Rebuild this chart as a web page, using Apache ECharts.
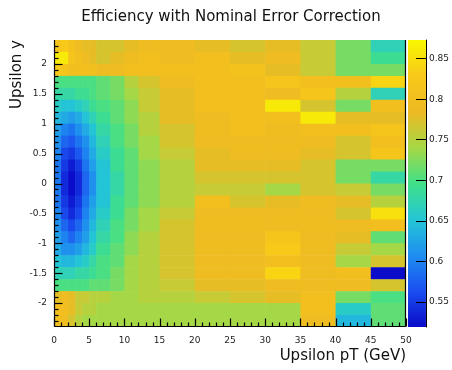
<!DOCTYPE html>
<html><head><meta charset="utf-8">
<script src="https://cdn.jsdelivr.net/npm/echarts@6/dist/echarts.min.js"></script>
<style>html,body{margin:0;padding:0;background:#fff}#c{width:452px;height:370px}</style>
</head><body><div id="c"></div>
<script>
const titleText = 'Efficiency with Nominal Error Correction';
const xName = 'Upsilon pT (GeV)';
const yName = 'Upsilon y';
// bin edges
const xEdges = [0,1,2,3,4,5,6,8,10,12,15,20,25,30,35,40,45,50];
const yEdges = [2.4,2.2,2.0,1.8,1.6,1.4,1.2,1.0,0.8,0.6,0.4,0.2,0,-0.2,-0.4,-0.6,-0.8,-1.0,-1.2,-1.4,-1.6,-1.8,-2.0,-2.2,-2.4];
// tick labels / tick positions
const xTickValues = [0,5,10,15,20,25,30,35,40,45,50];
const xMinorTickValues = [1,2,3,4,6,7,8,9,11,12,13,14,16,17,18,19,21,22,23,24,26,27,28,29,31,32,33,34,36,37,38,39,41,42,43,44,46,47,48,49];
const yTickValues = [-2,-1.5,-1,-0.5,0,0.5,1,1.5,2];
const yMinorTickValues = [-2.3,-2.2,-2.1,-1.9,-1.8,-1.7,-1.6,-1.4,-1.3,-1.2,-1.1,-0.9,-0.8,-0.7,-0.6,-0.4,-0.3,-0.2,-0.1,0.1,0.2,0.3,0.4,0.6,0.7,0.8,0.9,1.1,1.2,1.3,1.4,1.6,1.7,1.8,1.9,2.1,2.2,2.3];
const zTickValues = [0.55,0.6,0.65,0.7,0.75,0.8,0.85];
const zMin = 0.519, zMax = 0.873;
// efficiency per y row (top to bottom), per pT bin
const efficiency = [
 [0.82,0.83,0.81,0.79,0.78,0.78,0.77,0.77,0.78,0.79,0.79,0.78,0.77,0.78,0.76,0.72,0.67],
 [0.86,0.86,0.82,0.80,0.79,0.78,0.77,0.78,0.79,0.80,0.79,0.80,0.78,0.79,0.76,0.72,0.69],
 [0.83,0.82,0.80,0.80,0.80,0.80,0.79,0.79,0.80,0.80,0.80,0.80,0.81,0.78,0.76,0.72,0.72],
 [0.70,0.70,0.70,0.70,0.70,0.70,0.71,0.72,0.75,0.77,0.79,0.80,0.80,0.82,0.80,0.80,0.84],
 [0.68,0.68,0.68,0.69,0.69,0.70,0.71,0.72,0.74,0.76,0.78,0.80,0.80,0.79,0.82,0.75,0.67],
 [0.66,0.65,0.65,0.66,0.67,0.69,0.70,0.71,0.73,0.76,0.78,0.80,0.80,0.86,0.77,0.72,0.80],
 [0.64,0.63,0.62,0.63,0.65,0.67,0.69,0.71,0.73,0.75,0.78,0.79,0.80,0.80,0.86,0.78,0.78],
 [0.62,0.60,0.59,0.61,0.63,0.65,0.68,0.70,0.72,0.75,0.77,0.79,0.80,0.79,0.80,0.80,0.82],
 [0.61,0.58,0.57,0.59,0.61,0.64,0.67,0.70,0.72,0.74,0.77,0.79,0.79,0.79,0.79,0.77,0.80],
 [0.60,0.56,0.55,0.57,0.60,0.63,0.66,0.69,0.71,0.74,0.76,0.78,0.79,0.79,0.78,0.77,0.82],
 [0.59,0.55,0.53,0.55,0.59,0.62,0.65,0.69,0.71,0.73,0.75,0.78,0.78,0.78,0.77,0.72,0.72],
 [0.59,0.54,0.52,0.54,0.58,0.61,0.65,0.68,0.71,0.73,0.75,0.77,0.77,0.77,0.77,0.72,0.68],
 [0.59,0.54,0.52,0.54,0.58,0.61,0.65,0.68,0.71,0.73,0.75,0.76,0.76,0.74,0.77,0.76,0.72],
 [0.59,0.55,0.53,0.55,0.59,0.62,0.65,0.69,0.71,0.73,0.75,0.80,0.77,0.78,0.79,0.78,0.75],
 [0.60,0.56,0.54,0.56,0.60,0.63,0.66,0.69,0.72,0.74,0.76,0.79,0.79,0.79,0.79,0.77,0.85],
 [0.61,0.58,0.56,0.58,0.61,0.64,0.67,0.70,0.72,0.74,0.77,0.79,0.79,0.79,0.79,0.79,0.80],
 [0.62,0.60,0.58,0.60,0.62,0.65,0.68,0.70,0.73,0.75,0.77,0.79,0.79,0.82,0.79,0.78,0.71],
 [0.63,0.61,0.61,0.62,0.64,0.66,0.69,0.71,0.73,0.75,0.77,0.79,0.79,0.83,0.79,0.76,0.74],
 [0.65,0.64,0.64,0.65,0.66,0.68,0.70,0.71,0.74,0.75,0.77,0.79,0.79,0.80,0.79,0.74,0.77],
 [0.67,0.67,0.67,0.68,0.68,0.69,0.70,0.72,0.74,0.75,0.77,0.79,0.79,0.84,0.79,0.80,0.52],
 [0.70,0.70,0.70,0.70,0.70,0.71,0.71,0.72,0.74,0.75,0.76,0.78,0.78,0.79,0.79,0.79,0.77],
 [0.78,0.79,0.78,0.76,0.76,0.75,0.75,0.74,0.74,0.75,0.75,0.76,0.77,0.78,0.80,0.72,0.70],
 [0.80,0.80,0.78,0.76,0.75,0.75,0.74,0.74,0.74,0.74,0.74,0.74,0.74,0.74,0.80,0.66,0.71],
 [0.80,0.79,0.77,0.75,0.74,0.74,0.74,0.74,0.74,0.74,0.74,0.74,0.74,0.74,0.79,0.64,0.71]
];
const palette = ['#0a0ac8','#1a4ef0','#1e8ef0','#24c6d6','#40e088','#a6d846','#eeba22','#f8c81a','#f8f800'];

const cells = [];
for (let r = 0; r < efficiency.length; r++) {
  for (let c = 0; c < efficiency[r].length; c++) {
    cells.push([xEdges[c], xEdges[c+1], yEdges[r+1], yEdges[r], efficiency[r][c]]);
  }
}

const FONT = 'DejaVu Sans';
const chart = echarts.init(document.getElementById('c'), null, {renderer: 'canvas'});

function renderCell(params, api) {
  const p0 = api.coord([api.value(0), api.value(3)]);
  const p1 = api.coord([api.value(1), api.value(2)]);
  return {
    type: 'rect',
    shape: {x: p0[0], y: p0[1], width: p1[0] - p0[0] + 0.6, height: p1[1] - p0[1] + 0.6},
    style: {fill: api.visual('color')}
  };
}
function renderBar(params, api) {
  const p0 = api.coord([api.value(0), api.value(3)]);
  const p1 = api.coord([api.value(1), api.value(2)]);
  const stops = palette.map((c, i) => ({offset: i / (palette.length - 1), color: c}));
  return {
    type: 'rect',
    shape: {x: p0[0], y: p0[1], width: p1[0] - p0[0], height: p1[1] - p0[1]},
    style: {fill: new echarts.graphic.LinearGradient(0, 1, 0, 0, stops)}
  };
}

chart.setOption({
  animation: false,
  backgroundColor: '#fff',
  grid: [
    {left: 54, right: 46, top: 40, bottom: 43},
    {left: 408, width: 21, top: 40, bottom: 43}
  ],
  xAxis: [
    {type: 'value', gridIndex: 0, min: 0, max: 50, interval: 5, position: 'bottom',
     axisLine: {show: false, onZero: false},
     axisTick: {show: false},
     splitLine: {show: false},
     axisLabel: {fontFamily: FONT, fontSize: 9, color: '#222', margin: 9}},
    {type: 'value', gridIndex: 1, min: 0, max: 1, show: false, axisLine: {onZero: false}}
  ],
  yAxis: [
    {type: 'value', gridIndex: 0, min: -2.4, max: 2.4, position: 'left',
     axisLine: {show: false, onZero: false},
     axisTick: {show: false},
     splitLine: {show: false},
     axisLabel: {fontFamily: FONT, fontSize: 9, color: '#222', margin: 7, customValues: yTickValues}},
    {type: 'value', gridIndex: 1, min: zMin, max: zMax, position: 'right', zlevel: 1, z: 10,
     axisLine: {show: true, onZero: false, lineStyle: {color: '#000', width: 1}},
     axisTick: {show: true, inside: true, length: 10, customValues: zTickValues, lineStyle: {color: '#000'}},
     splitLine: {show: false},
     axisLabel: {fontFamily: FONT, fontSize: 9, color: '#222', margin: 3, customValues: zTickValues}}
  ],
  visualMap: {
    type: 'continuous', show: false, min: zMin, max: zMax, dimension: 4, seriesIndex: 0,
    inRange: {color: palette}
  },
  series: [
    {type: 'custom', xAxisIndex: 0, yAxisIndex: 0, renderItem: renderCell, clip: true,
     encode: {x: [0, 1], y: [2, 3]}, data: cells, z: 1, silent: true},
    {type: 'custom', xAxisIndex: 1, yAxisIndex: 1, renderItem: renderBar,
     encode: {x: [0, 1], y: [2, 3]}, data: [[0, 1, zMin, zMax]], z: 1, silent: true}
  ]
});

// frame and tick marks of the main plot, positioned through the grid's own scales
// (referenced to interior points, then mapped linearly to the edges)
const px = (x, y) => chart.convertToPixel({gridIndex: 0}, [x, y]);
const snap = v => Math.round(v) + 0.5;
const ctr = px(25, 0), tr = px(50, 2.4);
const sx = (tr[0] - ctr[0]) / 25, sy = (ctr[1] - tr[1]) / 2.4;
const xPix = v => ctr[0] + (v - 25) * sx;
const yPix = v => ctr[1] - v * sy;
const L = snap(xPix(0)), B = snap(yPix(-2.4)) - 1, T = yPix(2.4), R = snap(xPix(50)) - 1;
const graphics = [
  {type: 'text', x: 231, y: 17, style: {text: titleText, font: '15px "DejaVu Sans"', fill: '#111', textAlign: 'center', textVerticalAlign: 'middle'}},
  {type: 'text', x: 406, y: 356, style: {text: xName, font: '15px "DejaVu Sans"', fill: '#111', textAlign: 'right', textVerticalAlign: 'middle'}},
  {type: 'text', x: 17, y: 40, rotation: Math.PI / 2, style: {text: yName, font: '15px "DejaVu Sans"', fill: '#111', textAlign: 'right', textVerticalAlign: 'middle'}}
];
const addLine = (x1, y1, x2, y2) => graphics.push({type: 'line', zlevel: 2, z: 100, silent: true,
  shape: {x1: x1, y1: y1, x2: x2, y2: y2}, style: {stroke: '#000', lineWidth: 1.2}});
addLine(L, B, R, B);
addLine(L, T, L, B);
addLine(R, T, R, B);
xTickValues.forEach(v => { const x = snap(xPix(v)); addLine(x, B, x, B - 8); });
xMinorTickValues.forEach(v => { const x = snap(xPix(v)); addLine(x, B, x, B - 4); });
yTickValues.forEach(v => { const y = snap(yPix(v)); addLine(L, y, L + 8, y); });
yMinorTickValues.forEach(v => { const y = snap(yPix(v)); addLine(L, y, L + 4, y); });
chart.setOption({graphic: graphics});
</script>
</body></html>
